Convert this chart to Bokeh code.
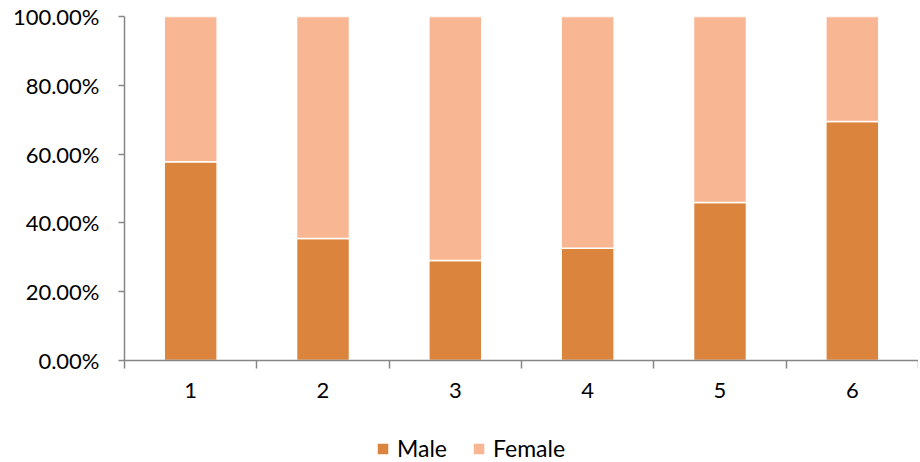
from bokeh.plotting import figure
from bokeh.layouts import column
from bokeh.models import (Range1d, FixedTicker, NumeralTickFormatter, Legend,
                          LegendItem, ColumnDataSource)
from bokeh.embed import file_html
from bokeh.resources import INLINE

categories = ["1", "2", "3", "4", "5", "6"]
male_pct = [57.8, 35.5, 29.1, 32.6, 45.9, 69.5]
female_pct = [round(100 - m, 1) for m in male_pct]
y_ticks = [0, 0.2, 0.4, 0.6, 0.8, 1.0]
series = ["Male", "Female"]
colors = ["#DB843D", "#F9B692"]

x = list(range(1, len(categories) + 1))
src = ColumnDataSource(dict(
    x=x,
    male=[m / 100 for m in male_pct],
    female=[f / 100 for f in female_pct],
))

FONT = "Lato"
AXIS_COLOR = "#868686"

p = figure(width=918, height=410, output_backend="svg", toolbar_location=None,
           x_range=Range1d(0.5, len(categories) + 0.5), y_range=Range1d(0, 1),
           min_border_left=124, min_border_right=0, min_border_top=16,
           min_border_bottom=50)
p.outline_line_color = None
p.xgrid.grid_line_color = None
p.ygrid.grid_line_color = None

rs = p.vbar_stack(["male", "female"], x="x", width=0.4, source=src,
                  color=colors, line_color="white", line_width=1.5)

# x axis: labels at centres, ticks at category boundaries
xa = p.xaxis[0]
xa.ticker = FixedTicker(ticks=x, minor_ticks=[i + 0.5 for i in range(0, len(categories) + 1)])
xa.major_label_overrides = {i: c for i, c in zip(x, categories)}
xa.major_tick_out = 0
xa.major_tick_in = 0
xa.minor_tick_out = 8
xa.minor_tick_in = 0
xa.minor_tick_line_color = AXIS_COLOR
xa.minor_tick_line_width = 1.5
xa.axis_line_color = AXIS_COLOR
xa.axis_line_width = 1.5
xa.major_label_text_font = FONT
xa.major_label_text_font_size = "22px"
xa.major_label_text_color = "#000000"
xa.major_label_standoff = 14

ya = p.yaxis[0]
ya.ticker = FixedTicker(ticks=y_ticks, minor_ticks=[])
ya.formatter = NumeralTickFormatter(format="0.00%")
ya.major_tick_out = 6
ya.major_tick_in = 0
ya.major_tick_line_color = AXIS_COLOR
ya.major_tick_line_width = 1.5
ya.axis_line_color = AXIS_COLOR
ya.axis_line_width = 1.5
ya.major_label_text_font = FONT
ya.major_label_text_font_size = "22px"
ya.major_label_text_color = "#000000"
ya.major_label_standoff = 19

# legend strip below the chart
lg = figure(width=918, height=52, output_backend="svg", toolbar_location=None,
            x_range=Range1d(0.5, len(categories) + 0.5), y_range=Range1d(10, 11),
            min_border=0, x_axis_location=None, y_axis_location=None)
lg.outline_line_color = None
lg.xgrid.grid_line_color = None
lg.ygrid.grid_line_color = None
lrs = lg.vbar_stack(["male", "female"], x="x", width=0.4, source=src,
                    color=colors, line_color="white", line_width=1.5)

legend = Legend(items=[LegendItem(label=s, renderers=[r]) for s, r in zip(series, lrs)],
                location=(251, 0), orientation="horizontal",
                border_line_color=None, background_fill_alpha=0,
                label_text_font=FONT, label_text_font_size="23px",
                label_text_color="#000000",
                glyph_width=15, glyph_height=15, padding=0, margin=0,
                spacing=24, label_standoff=7)
lg.add_layout(legend)

layout = column(p, lg, spacing=0)
open("out.html", "w").write(file_html(layout, INLINE))
